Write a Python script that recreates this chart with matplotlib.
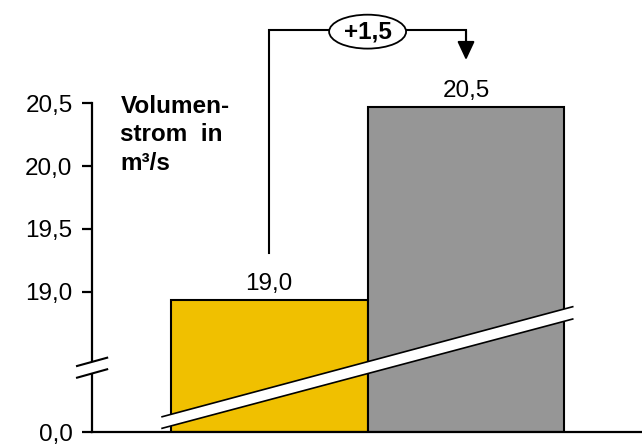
"""Volumenstrom bar chart with broken y axis"""
import matplotlib.pyplot as plt
from matplotlib.patches import Ellipse, Polygon

plt.rcParams['font.family'] = ['Liberation Sans', 'DejaVu Sans']

# Data ---
categories = ['vorher', 'nachher']
bar_heights = [18.93, 20.47]          # as drawn in the picture
value_labels = ['19,0', '20,5']
tick_values = [0.0, 19.0, 19.5, 20.0, 20.5]
tick_labels = ['0,0', '19,0', '19,5', '20,0', '20,5']
diff_label = '+1,5'
axis_title = 'Volumen-\nstrom  in\nm³/s'
colors = ['#F0C000', '#969696']

# Broken axis: values from 19 upward are shifted down next to 0
BREAK_AT = 19.0
GAP = 1.12


def to_plot(v):
    return v if v < 10 else v - BREAK_AT + GAP


fig = plt.figure(figsize=(6.42, 4.48), dpi=100)
ax = fig.add_axes([92 / 642, 0.035, 1 - 92 / 642, 0.965])

x = list(range(len(categories)))
heights = [to_plot(h) for h in bar_heights]
ax.bar(x, heights, width=1.0, color=colors, edgecolor='black', linewidth=1.5, zorder=2)

ax.set_xlim(-0.9, 1.894)
ax.set_ylim(0, 3.442)

# Axis styling
for side in ('top', 'right'):
    ax.spines[side].set_visible(False)
ax.spines['left'].set_linewidth(1.6)
ax.spines['bottom'].set_linewidth(1.6)
ax.spines['left'].set_bounds(0, to_plot(tick_values[-1]))
ax.set_xticks([])
ax.set_yticks([to_plot(v) for v in tick_values])
ax.set_yticklabels(tick_labels, fontsize=17.5)
ax.tick_params(axis='y', length=7.5, width=1.6, pad=6.5)

# Value labels above bars
for xi, h, lab in zip(x, heights, value_labels):
    ax.annotate(lab, (xi, h), xytext=(0, 7.5), textcoords='offset points',
                ha='center', va='baseline', fontsize=17.5)

# Axis title inside plot
ax.text(-0.756, 2.685, axis_title, fontsize=17.5, fontweight='bold',
        ha='left', va='top', linespacing=1.3)

# Break marker on y axis
bx0, bx1 = -0.976, -0.823
ax.add_patch(Polygon([(bx0, 0.435), (bx1, 0.502), (bx1, 0.594), (bx0, 0.528)],
                     closed=True, facecolor='white', edgecolor='none',
                     clip_on=False, zorder=4))
for y0, y1 in ((0.435, 0.502), (0.528, 0.594)):
    ax.plot([bx0, bx1], [y0, y1], color='black', lw=1.5, clip_on=False, zorder=5)

# Break stripe across bars
sx0, sx1 = -0.544, 1.542
lower = (0.032, 0.902)
upper = (0.124, 1.0)
ax.add_patch(Polygon([(sx0, lower[0]), (sx1, lower[1]), (sx1, upper[1]), (sx0, upper[0])],
                     closed=True, facecolor='white', edgecolor='none',
                     clip_on=False, zorder=4))
for y0, y1 in (lower, upper):
    ax.plot([sx0, sx1], [y0, y1], color='black', lw=1.2, clip_on=False, zorder=5)

# Difference connector
y_top = 3.2
ax.plot([x[0], x[0], x[1], x[1]], [1.428, y_top, y_top, 3.1],
        color='black', lw=1.5, zorder=3, solid_joinstyle='miter')
ax.annotate('', xy=(x[1], 2.964), xytext=(x[1], y_top),
            arrowprops=dict(arrowstyle='-|>,head_length=0.75,head_width=0.35',
                            mutation_scale=15, lw=1.5, color='black',
                            shrinkA=0, shrinkB=0), zorder=3)
ax.add_patch(Ellipse((0.5, 3.19), width=0.391, height=0.27, facecolor='white',
                     edgecolor='black', lw=1.3, zorder=4))
ax.text(0.5, 3.19, diff_label, fontsize=17.5, fontweight='bold',
        ha='center', va='center', zorder=5)

fig.savefig('out.png', dpi=100)
